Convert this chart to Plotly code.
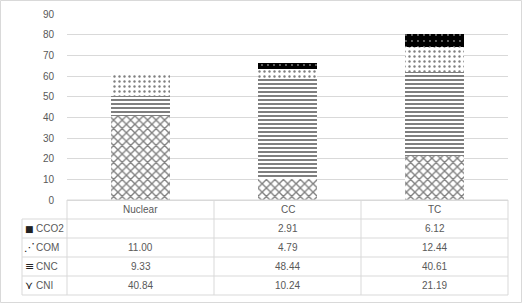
import plotly.graph_objects as go

categories = ["Nuclear", "CC", "TC"]
series_names = ["CNI", "CNC", "COM", "CCO2"]          # bottom -> top of stack
cni = [40.84, 10.24, 21.19]
cnc = [9.33, 48.44, 40.61]
com = [11.00, 4.79, 12.44]
cco2 = [None, 2.91, 6.12]
y_ticks = [0, 10, 20, 30, 40, 50, 60, 70, 80, 90]

values = {"CNI": cni, "CNC": cnc, "COM": com, "CCO2": cco2}
table_order = ["CCO2", "COM", "CNC", "CNI"]            # top -> bottom rows
key_glyph = {"CCO2": "■", "COM": "⋰", "CNC": "≡", "CNI": "⋎"}

patterns = {
    "CNI": dict(shape="x", size=6, solidity=0.4, fgcolor="black", bgcolor="white"),
    "CNC": dict(shape="-", size=4, solidity=0.5, fgcolor="black", bgcolor="white"),
    "COM": dict(shape=".", size=5, solidity=0.18, fgcolor="black", bgcolor="white"),
    "CCO2": dict(shape=".", size=6, solidity=0.08, fgcolor="white", bgcolor="black"),
}

W, H = 522, 303
PL, PR, PT, PB = 67, 508, 14, 200
PW, PH = PR - PL, PB - PT
TXT = "#595959"
GRID = "#d9d9d9"
FONT = "Liberation Sans, Arial, sans-serif"


def fx(p):
    return (p - PL) / PW


def fy(p):
    return (PB - p) / PH


fig = go.Figure()
for name in series_names:
    fig.add_trace(go.Bar(
        x=categories, y=values[name], name=name,
        marker=dict(color="white", line=dict(width=0), pattern=patterns[name]),
        width=0.4, showlegend=False,
    ))

shapes = []
annotations = []
row_h = 19
top = PB
label_left = 22
n = len(categories)
line = dict(color=GRID, width=1)

# horizontal table lines
shapes.append(dict(type="line", xref="paper", yref="paper", x0=0, x1=1,
                   y0=fy(top), y1=fy(top), line=line))
for i in range(1, len(table_order) + 2):
    yy = top + i * row_h
    shapes.append(dict(type="line", xref="paper", yref="paper", x0=fx(label_left), x1=1,
                       y0=fy(yy), y1=fy(yy), line=line))
# vertical table lines
bottom = top + (len(table_order) + 1) * row_h
shapes.append(dict(type="line", xref="paper", yref="paper", x0=fx(label_left), x1=fx(label_left),
                   y0=fy(top + row_h), y1=fy(bottom), line=line))
for k in range(n + 1):
    shapes.append(dict(type="line", xref="paper", yref="paper", x0=k / n, x1=k / n,
                       y0=fy(top), y1=fy(bottom), line=line))
# outer chart border
shapes.append(dict(type="rect", xref="paper", yref="paper", x0=fx(0.5), x1=fx(W - 0.5),
                   y0=fy(0.5), y1=fy(H - 0.5), line=line, fillcolor="rgba(0,0,0,0)"))

# header
for c in categories:
    annotations.append(dict(xref="x", yref="paper", x=c, y=fy(top + row_h / 2), text=c,
                            showarrow=False, font=dict(size=10, color=TXT, family=FONT),
                            xanchor="center", yanchor="middle"))
# rows
for r, name in enumerate(table_order):
    yc = fy(top + row_h * (r + 1) + row_h / 2)
    annotations.append(dict(xref="paper", yref="paper", x=fx(29), y=yc, text=key_glyph[name],
                            showarrow=False,
                            font=dict(size=9 if name == "CCO2" else 11, color="#222222",
                                      family="DejaVu Sans"),
                            xanchor="center", yanchor="middle"))
    annotations.append(dict(xref="paper", yref="paper", x=fx(34), y=yc, text=name,
                            showarrow=False, font=dict(size=10, color=TXT, family=FONT),
                            xanchor="left", yanchor="middle"))
    for c, v in zip(categories, values[name]):
        if v is None:
            continue
        annotations.append(dict(xref="x", yref="paper", x=c, y=yc, text=f"{v:.2f}",
                                showarrow=False, font=dict(size=10, color=TXT, family=FONT),
                                xanchor="center", yanchor="middle"))

fig.update_layout(
    width=W, height=H, barmode="stack",
    margin=dict(l=PL, r=W - PR, t=PT, b=H - PB, pad=0, autoexpand=False),
    paper_bgcolor="white", plot_bgcolor="white",
    shapes=shapes, annotations=annotations,
    font=dict(family=FONT, size=10, color=TXT),
    xaxis=dict(range=[-0.5, 2.5], showticklabels=False, showgrid=False, zeroline=False,
               showline=False, ticks=""),
    yaxis=dict(range=[0, 90], tickvals=y_ticks, showgrid=True, gridcolor=GRID, gridwidth=1,
               zeroline=True, zerolinecolor=GRID, zerolinewidth=1, showline=False, ticks="",
               ticklabelstandoff=12, tickfont=dict(size=10, color=TXT, family=FONT)),
)

fig.write_html("out.html")
